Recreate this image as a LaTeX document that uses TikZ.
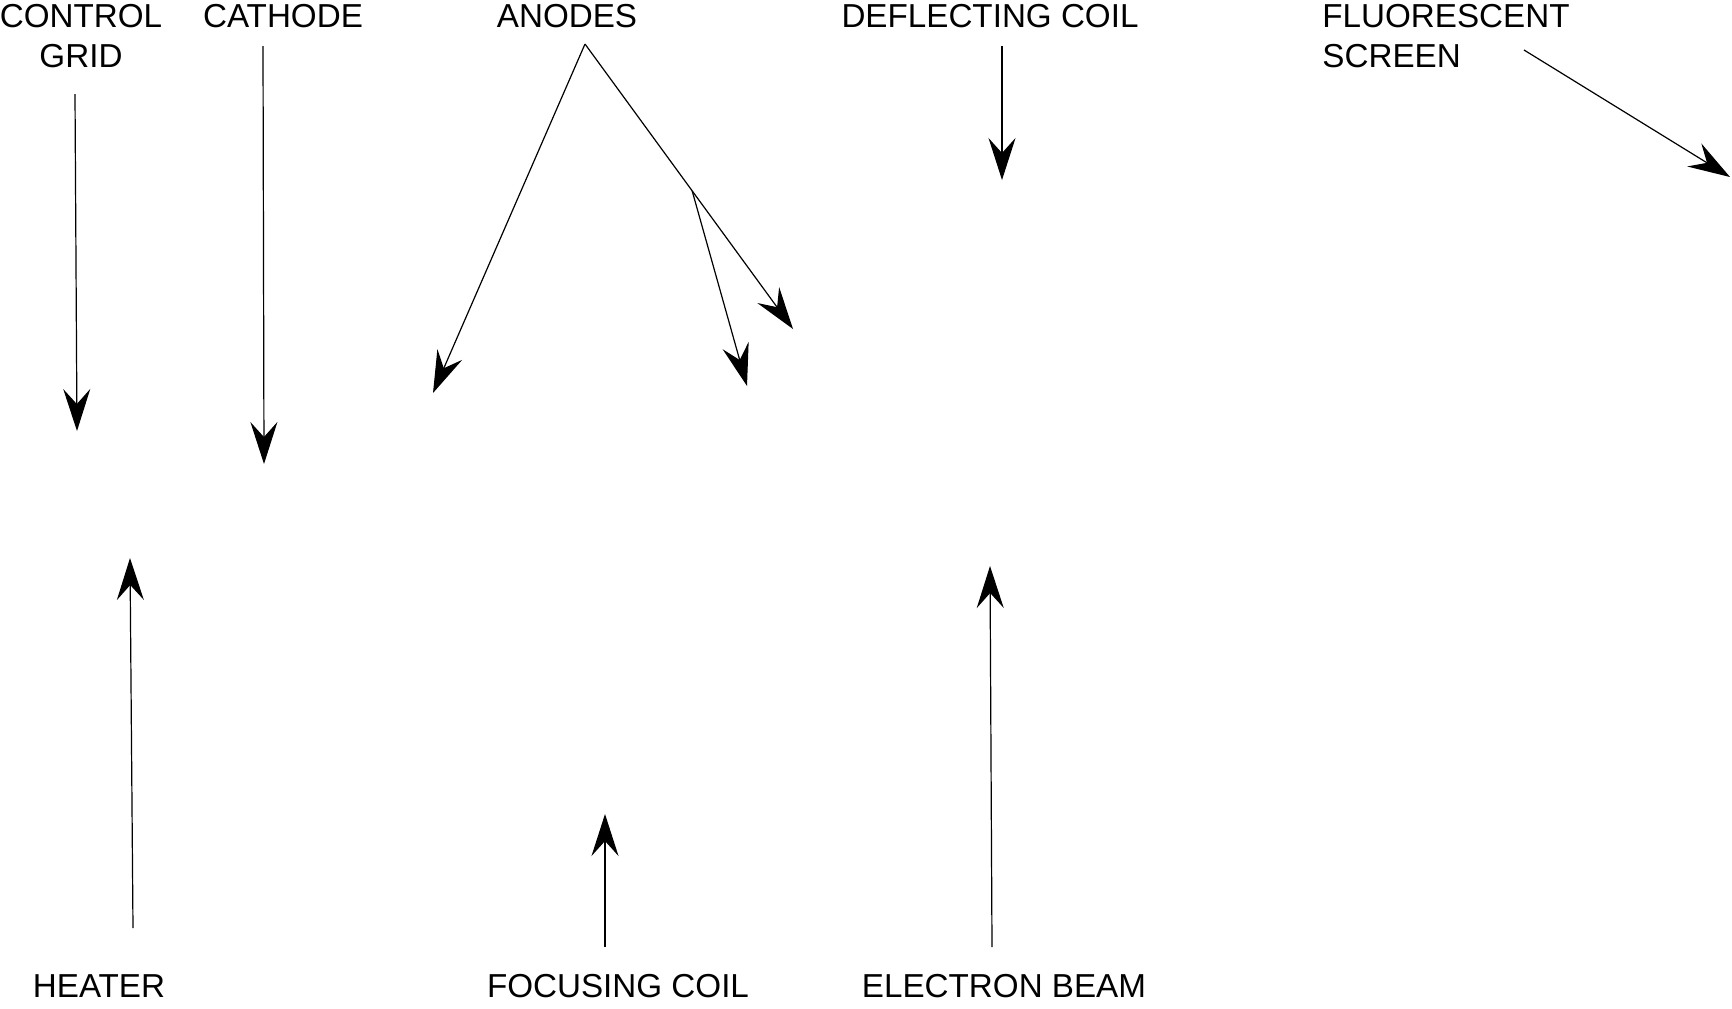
\documentclass[tikz,border=0pt]{standalone}
\usepackage{fontspec}
\setmainfont{Liberation Sans}
\usetikzlibrary{arrows.meta,calc}
\begin{document}
\begin{tikzpicture}[x=0.5pt,y=-0.5pt,
  lbl/.style={font=\fontsize{16.6}{20}\selectfont, inner sep=0pt, anchor=base},
  pointer/.style={line width=0.6pt, -{Stealth[length=21pt,width=13.5pt,inset=7.5pt]}}]
\useasboundingbox (0,0) rectangle (1732,1008);
% labels (base anchor of a two-line node is the last line's baseline)
\node[lbl, align=center] (grid) at (81,67) {CONTROL\\GRID};
\node[lbl] (cathode) at (283,27) {CATHODE};
\node[lbl] (anodes) at (567,27) {ANODES};
\node[lbl] (deflect) at (990,27) {DEFLECTING COIL};
\node[lbl, align=left, anchor=base west] (screen) at (1322,67) {FLUORESCENT\\SCREEN};
\node[lbl] (heater) at (99,997) {HEATER};
\node[lbl] (focus) at (618,997) {FOCUSING COIL};
\node[lbl] (beam) at (1004,997) {ELECTRON BEAM};
% connector ends
\coordinate (gridS) at (75,94);    \coordinate (gridT) at (77,431);
\coordinate (cathS) at (263,46);   \coordinate (cathT) at (264,464);
\coordinate (anS) at (585,44);
\coordinate (anT1) at (433,393);   \coordinate (anT2) at (793,329);
\coordinate (anB) at ($(anS)!0.515!(anT2)$);
\coordinate (anT3) at (747,386);
\coordinate (defS) at (1002,46);   \coordinate (defT) at (1002,180);
\coordinate (scrS) at (1524,50);   \coordinate (scrT) at (1730,177);
\coordinate (heatS) at (133,928);  \coordinate (heatT) at (130,558);
\coordinate (focS) at (605,947);   \coordinate (focT) at (605,814);
\coordinate (beamS) at (992,947);  \coordinate (beamT) at (990,566);
% connectors
\draw[pointer] (gridS) -- (gridT);
\draw[pointer] (cathS) -- (cathT);
\draw[pointer] (anS) -- (anT1);
\draw[pointer] (anS) -- (anT2);
\draw[pointer] (anB) -- (anT3);
\draw[pointer] (defS) -- (defT);
\draw[pointer] (scrS) -- (scrT);
\draw[pointer] (heatS) -- (heatT);
\draw[pointer] (focS) -- (focT);
\draw[pointer] (beamS) -- (beamT);
\end{tikzpicture}
\end{document}
